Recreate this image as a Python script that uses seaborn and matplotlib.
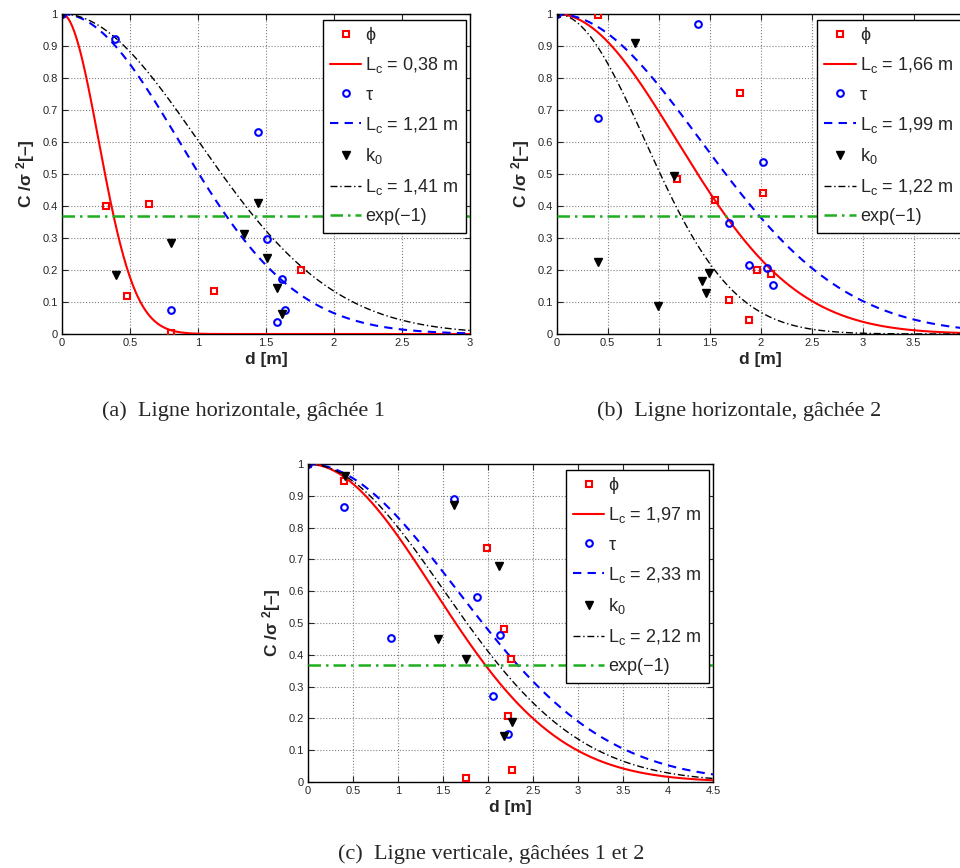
import numpy as np
import matplotlib
matplotlib.use("Agg")
import matplotlib.pyplot as plt
from matplotlib.ticker import FuncFormatter, MultipleLocator
import seaborn as sns

# --- data ------------------------------------------------------------------
# (a) ligne horizontale, gachee 1
a_phi_d = [0, 0.32, 0.48, 0.64, 0.80, 1.12, 1.76]
a_phi_c = [1, 0.40, 0.12, 0.405, 0.002, 0.134, 0.20]
a_tau_d = [0, 0.39, 0.80, 1.44, 1.51, 1.62, 1.58, 1.64]
a_tau_c = [1, 0.921, 0.075, 0.632, 0.297, 0.173, 0.038, 0.076]
a_k0_d = [0, 0.40, 0.80, 1.44, 1.34, 1.51, 1.58, 1.62]
a_k0_c = [1, 0.185, 0.283, 0.408, 0.313, 0.239, 0.145, 0.061]
a_lc = [0.38, 1.21, 1.41]

# (b) ligne horizontale, gachee 2
b_phi_d = [0, 0.40, 1.80, 1.18, 1.55, 2.02, 1.96, 2.10, 1.69, 1.89]
b_phi_c = [1, 0.997, 0.752, 0.484, 0.418, 0.44, 0.199, 0.186, 0.105, 0.043]
b_tau_d = [0, 0.40, 1.39, 2.02, 1.69, 1.89, 2.06, 2.12]
b_tau_c = [1, 0.676, 0.968, 0.538, 0.346, 0.216, 0.205, 0.154]
b_k0_d = [0, 0.40, 0.77, 1.15, 0.99, 1.42, 1.49, 1.46]
b_k0_c = [1, 0.225, 0.910, 0.494, 0.088, 0.166, 0.19, 0.127]
b_lc = [1.66, 1.99, 1.22]

# (c) ligne verticale, gachees 1 et 2
c_phi_d = [0, 0.40, 1.99, 2.18, 2.25, 2.22, 2.27, 1.76]
c_phi_c = [1, 0.948, 0.737, 0.481, 0.387, 0.206, 0.039, 0.012]
c_tau_d = [0, 0.40, 0.92, 1.62, 1.88, 2.13, 2.06, 2.22]
c_tau_c = [1, 0.866, 0.452, 0.890, 0.581, 0.461, 0.27, 0.152]
c_k0_d = [0, 0.41, 1.62, 2.12, 1.44, 1.76, 2.27, 2.18]
c_k0_c = [1, 0.963, 0.871, 0.678, 0.449, 0.386, 0.189, 0.145]
c_lc = [1.97, 2.33, 2.12]

captions = ["(a)  Ligne horizontale, gâchée 1",
            "(b)  Ligne horizontale, gâchée 2",
            "(c)  Ligne verticale, gâchées 1 et 2"]

GREEN = "#1fae1f"

sns.set_style("ticks")
plt.rcParams["font.family"] = ["Liberation Sans", "DejaVu Sans"]
plt.rcParams["mathtext.fontset"] = "custom"
plt.rcParams["mathtext.rm"] = "Liberation Sans"
plt.rcParams["mathtext.it"] = "Liberation Sans:italic"
plt.rcParams["mathtext.bf"] = "Liberation Sans:bold"


def lc_label(lc):
    return r"L$_\mathrm{c}$ = " + f"{lc:.2f}".replace(".", ",") + " m"


def draw_panel(ax, pts, lcs, xmax, last_label=None):
    """Scatter of measured correlations + gaussian fit exp(-(d/Lc)^2)"""
    d = np.linspace(0, xmax, 400)
    (phi_d, phi_c), (tau_d, tau_c), (k0_d, k0_c) = pts

    h_phi, = ax.plot(phi_d, phi_c, ls="none", marker="s", ms=5, mfc="none",
                     mec="red", mew=1.5, zorder=4)
    h_tau, = ax.plot(tau_d, tau_c, ls="none", marker="o", ms=4.8, mfc="none",
                     mec="blue", mew=1.5, zorder=4)
    h_k0, = ax.plot(k0_d, k0_c, ls="none", marker="v", ms=5.5, mfc="black",
                    mec="black", zorder=4)

    sns.lineplot(x=d, y=np.exp(-(d / lcs[0]) ** 2), ax=ax, color="red",
                 lw=1.5, zorder=3)
    sns.lineplot(x=d, y=np.exp(-(d / lcs[1]) ** 2), ax=ax, color="blue",
                 lw=1.5, zorder=3)
    sns.lineplot(x=d, y=np.exp(-(d / lcs[2]) ** 2), ax=ax, color="black",
                 lw=1.0, zorder=3)
    lines = ax.get_lines()
    h_r, h_b, h_k = lines[-3], lines[-2], lines[-1]
    h_b.set_linestyle((0, (4, 3)))
    h_k.set_linestyle((0, (5, 2, 1, 2)))
    h_e = ax.axhline(np.exp(-1), color=GREEN, lw=1.8,
                     ls=(0, (5, 2, 1, 2)), zorder=3)

    ax.set_xlim(0, xmax)
    ax.set_ylim(0, 1)
    ax.xaxis.set_major_locator(MultipleLocator(0.5))
    ax.yaxis.set_major_locator(MultipleLocator(0.1))
    fmt = FuncFormatter(lambda v, p: "" if (last_label is not None and v > last_label + 1e-9) else f"{v:g}")
    ax.xaxis.set_major_formatter(fmt)
    ax.yaxis.set_major_formatter(FuncFormatter(lambda v, p: f"{v:g}"))
    ax.tick_params(direction="in", length=4, width=0.8, labelsize=8,
                   top=True, right=True, pad=3)
    ax.grid(True, ls=":", color="0.5", lw=0.8)
    for s in ax.spines.values():
        s.set_linewidth(1.0)
        s.set_color("black")
    ax.set_xlabel("d [m]", fontsize=12.5, fontweight="bold", labelpad=3)
    ax.set_ylabel("C /σ $^{\\mathbf{2}}$[–]", fontsize=12.5,
                  fontweight="bold", labelpad=4)

    w_px = ax.get_position().width * 960
    h_px = ax.get_position().height * 868
    leg = ax.legend([h_phi, h_r, h_tau, h_b, h_k0, h_k, h_e],
                    ["ϕ", lc_label(lcs[0]), "τ", lc_label(lcs[1]),
                     r"k$_\mathrm{0}$", lc_label(lcs[2]), "exp(−1)"],
                    loc="upper right",
                    bbox_to_anchor=(1 - 4 / w_px, 1 - 6 / h_px),
                    borderaxespad=0, fontsize=13, frameon=True,
                    fancybox=False, framealpha=1, edgecolor="black",
                    handlelength=1.75, handletextpad=0.22, labelspacing=0.62,
                    borderpad=0.4, numpoints=1)
    leg.get_frame().set_linewidth(1.0)


fig = plt.figure(figsize=(9.6, 8.68), dpi=100)
ax_a = fig.add_axes([62 / 960, 1 - 334 / 868, 408 / 960, 320 / 868])
ax_b = fig.add_axes([556.7 / 960, 1 - 334 / 868, 408 / 960, 320 / 868])
ax_c = fig.add_axes([308 / 960, 1 - 782 / 868, 405 / 960, 318 / 868])

draw_panel(ax_a, [(a_phi_d, a_phi_c), (a_tau_d, a_tau_c), (a_k0_d, a_k0_c)],
           a_lc, 3)
draw_panel(ax_b, [(b_phi_d, b_phi_c), (b_tau_d, b_tau_c), (b_k0_d, b_k0_c)],
           b_lc, 4, last_label=3.5)
draw_panel(ax_c, [(c_phi_d, c_phi_c), (c_tau_d, c_tau_c), (c_k0_d, c_k0_c)],
           c_lc, 4.5)

cap_kw = dict(ha="center", va="center", fontsize=16,
              family=["Liberation Serif", "DejaVu Serif"])
fig.text(243 / 960, 1 - 411 / 868, captions[0], **cap_kw)
fig.text(739 / 960, 1 - 411 / 868, captions[1], **cap_kw)
fig.text(491 / 960, 1 - 854 / 868, captions[2], **cap_kw)

fig.savefig("out.png", dpi=100)
